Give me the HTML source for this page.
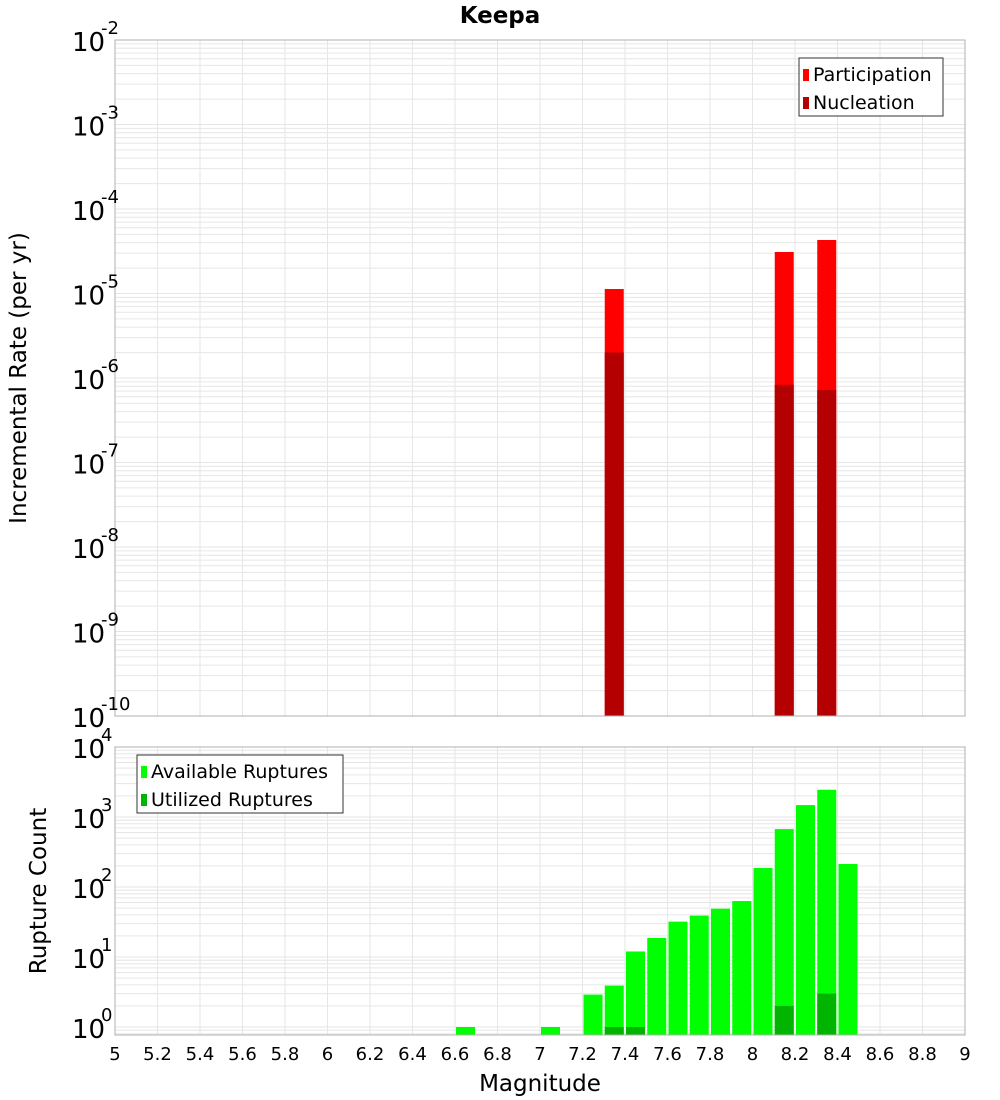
<!DOCTYPE html>
<html><head><meta charset="utf-8"><style>
body{margin:0;background:#fff;}
svg{display:block;font-family:"DejaVu Sans","Liberation Sans",sans-serif;}
</style></head><body>
<svg id="c" width="1000" height="1100"></svg>
<script>
// Top chart data
const topMags = [7.3, 8.1, 8.3];
const partRates = [1.13e-5, 3.1e-5, 4.3e-5];
const nuclRates = [2.0e-6, 8.3e-7, 7.2e-7];
// Bottom chart data
const botMags = [6.6, 7.0, 7.2, 7.3, 7.4, 7.5, 7.6, 7.7, 7.8, 7.9, 8.0, 8.1, 8.2, 8.3, 8.4];
const availCounts = [1, 1, 2.9, 3.9, 12, 18.7, 32, 39, 49, 63, 187, 672, 1480, 2450, 213];
const utilMags = [7.3, 7.4, 8.1, 8.3];
const utilCounts = [1, 1, 2, 3];
const xTicks = ["5","5.2","5.4","5.6","5.8","6","6.2","6.4","6.6","6.8","7","7.2","7.4","7.6","7.8","8","8.2","8.4","8.6","8.8","9"];
const topExps = [-2,-3,-4,-5,-6,-7,-8,-9,-10];
const botExps = [4,3,2,1,0];

const NS="http://www.w3.org/2000/svg";
const svg=document.getElementById('c');
function mk(tag,attrs,parent){const e=document.createElementNS(NS,tag);for(const k in attrs)e.setAttribute(k,attrs[k]);(parent||svg).appendChild(e);return e;}
const X0=115,X1=965;
const x=m=>X0+(m-5)/4*(X1-X0);
const T0=40,T1=716,yT=v=>T0+(-2-Math.log10(v))*(T1-T0)/8;
const B0=747,B1=1035,yB=v=>B0+(4-Math.log10(v))*70;

function grid(top,bot,yf,lo,hi){
  for(let e=lo;e<hi;e++)for(let k=1;k<10;k++){const yy=yf(k*Math.pow(10,e));if(yy<top-0.5||yy>bot+0.5)continue;
    const l=mk('line',{x1:X0,x2:X1,y1:yy,y2:yy,stroke:'#e6e6e6','stroke-width':1});
    
    }
  xTicks.forEach(t=>{const xx=x(+t);const l=mk('line',{x1:xx,x2:xx,y1:top,y2:bot,stroke:'#e6e6e6','stroke-width':1});
    
    });
}
grid(T0,T1,yT,-10,-2);
grid(B0,B1,yB,-1,4);

const bw=19;
topMags.forEach((m,i)=>{
  const r=mk('rect',{x:x(m)+1,y:yT(partRates[i]),width:bw,height:T1-yT(partRates[i]),fill:'#ff0000'});
  
  
  const n=mk('rect',{x:x(m)+1,y:yT(nuclRates[i]),width:bw,height:T1-yT(nuclRates[i]),fill:'#b40000'});
  
  
});
botMags.forEach((m,i)=>{
  const r=mk('rect',{x:x(m)+1,y:yB(availCounts[i]),width:bw,height:B1-yB(availCounts[i]),fill:'#00ff00'});
  
  
});
utilMags.forEach((m,i)=>{
  const r=mk('rect',{x:x(m)+1,y:yB(utilCounts[i]),width:bw,height:B1-yB(utilCounts[i]),fill:'#00b400'});
  
  
});

const f1=mk('rect',{x:X0,y:T0,width:X1-X0,height:T1-T0,fill:'none',stroke:'#b0b0b0'});


const f2=mk('rect',{x:X0,y:B0,width:X1-X0,height:B1-B0,fill:'none',stroke:'#b0b0b0'});



function ylab(yy,e){
  const t=mk('text',{x:72,y:yy+11,'font-size':26,fill:'#000'});
  t.textContent='10';
  
  
  const s=mk('text',{x:101,y:yy-6,'font-size':18,fill:'#000'});
  s.textContent=String(e);
  
  
}
topExps.forEach(e=>ylab(yT(Math.pow(10,e)),e));
botExps.forEach(e=>ylab(yB(Math.pow(10,e)),e));

xTicks.forEach(t=>{const tx=mk('text',{x:x(+t),y:1060,'font-size':18,'text-anchor':'middle',fill:'#000'});tx.textContent=t;
  
  });

function txt(str,attrs,name){const t=mk('text',attrs);t.textContent=str;return t;}
txt('Keepa',{x:500,y:23,'font-size':23,'font-weight':'bold','text-anchor':'middle'},'chart-title');
txt('Magnitude',{x:540,y:1091,'font-size':23,'text-anchor':'middle'},'x-axis-title');
txt('Incremental Rate (per yr)',{x:0,y:0,'font-size':23,'text-anchor':'middle',transform:'translate(26,378) rotate(-90)'},'top-y-axis-title');
txt('Rupture Count',{x:0,y:0,'font-size':23,'text-anchor':'middle',transform:'translate(46,891) rotate(-90)'},'bottom-y-axis-title');

function legend(lx,ly,w,items,name){
  const g=mk('g',{});
  mk('rect',{x:lx,y:ly,width:w,height:58,fill:'#fff',stroke:'#333','stroke-width':1},g);
  items.forEach((it,i)=>{
    mk('rect',{x:lx+4,y:ly+11+i*28,width:6,height:12,fill:it[1]},g);
    const t=mk('text',{x:lx+14,y:ly+23+i*28,'font-size':19},g);t.textContent=it[0];
    
    
  });
}
legend(799,58,144,[['Participation','#ff0000'],['Nucleation','#b40000']],'top-legend');
legend(137,755,206,[['Available Ruptures','#00ff00'],['Utilized Ruptures','#00b400']],'bottom-legend');
</script>
</body></html>
